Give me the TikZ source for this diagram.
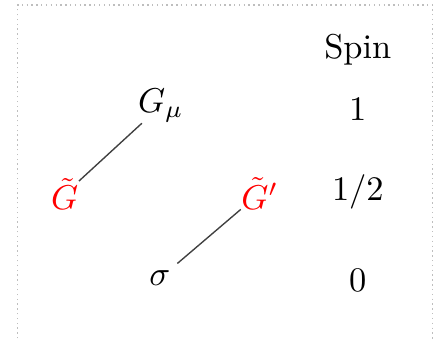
\documentclass[tikz,border=0pt]{standalone}
\usepackage{amsmath,amssymb}
\usepackage{tikz}
\usetikzlibrary{positioning,calc}
\usepackage{xcolor}
\definecolor{framegray}{RGB}{190,190,190}

\begin{document}
\begin{tikzpicture}
\tikzstyle{f}=[inner sep=0pt]
\tikzstyle{sp}=[inner sep=1pt]
\tikzstyle{link}=[black!75,line width=.4pt]
\useasboundingbox (0,0) rectangle (4.447,-3.448);
\draw[framegray,densely dotted] (0.18,-3.6) |- (4.41,-0.05) -- (4.41,-3.6);
% fields
\node[f] (gmu) at (1.64,-1.08) {$G_\mu$};
\node[f,red] (gt) at (0.66,-1.98) {$\tilde G$};
\node[f,red] (gtp) at (2.65,-1.97) {$\tilde G'$};
\node[f,inner sep=2pt] (sig) at (1.63,-2.84) {$\sigma$};
% spin column
\node[sp] (spin) at (3.65,-0.51) {Spin};
\node[sp] (s1) at (3.65,-1.12) {$1$};
\node[sp] (shalf) at (3.65,-1.96) {$1/2$};
\node[sp] (s0) at (3.65,-2.86) {$0$};
\draw[link] (gt)--(gmu);
\draw[link] (sig)--(gtp);
\end{tikzpicture}
\end{document}
